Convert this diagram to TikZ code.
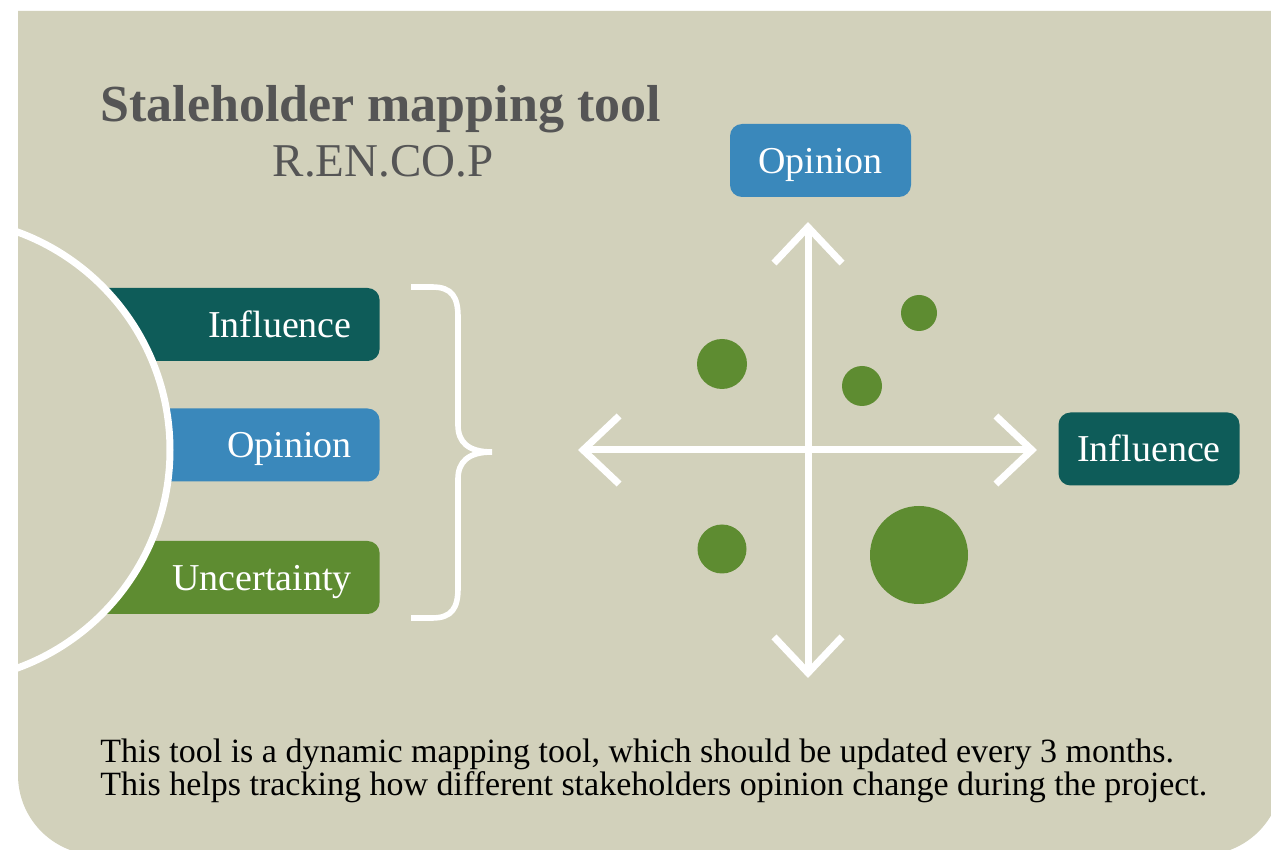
\documentclass[tikz,border=0pt]{standalone}
\usepackage{fontspec}
\setmainfont{Liberation Serif}
\usetikzlibrary{arrows.meta,positioning}
\definecolor{paper}{HTML}{D2D1BB}
\definecolor{teal}{HTML}{0E5C59}
\definecolor{sky}{HTML}{3A88BB}
\definecolor{leaf}{HTML}{5E8C31}
\definecolor{ink}{HTML}{555555}
\begin{document}
\begin{tikzpicture}
	[x=0.5pt, y=-0.5pt,
	lbl/.style ={rounded corners=6pt, text=white, font=\fontsize{19}{22}\selectfont, minimum height=36.5pt, inner sep=0pt, text height=12.6pt, text depth=0pt},
	sidebox/.style ={lbl, text width=132pt, align=right, inner xsep=14pt},
	axisbox/.style ={lbl, minimum width=90.5pt},
	axis/.style ={white, line width=3.5pt, {Straight Barb[length=18pt,width=34pt]}-{Straight Barb[length=18pt,width=34pt]}},
	dot/.style ={circle, fill=leaf, inner sep=0pt}];
	\useasboundingbox (0,0) rectangle (1271,850);
	% card
	\fill[paper, rounded corners=40pt] (18,11) [sharp corners] -- (1282,11) [rounded corners=40pt] -- (1282,855) -- (18,855) [sharp corners] -- cycle;
	% title
	\node [anchor=base west, inner sep=0pt, text=ink, font=\fontsize{26}{30}\selectfont\bfseries] (title) at (100,122) {Staleholder mapping tool};
	\node [anchor=base, inner sep=0pt, text=ink, font=\fontsize{23.5}{28}\selectfont] (acronym) at (383,177) {R.EN.CO.P};
	% left side
	\node [sidebox, fill=teal, anchor=east] (influence) at (380,324.5) {Influence};
	\node [sidebox, fill=sky, anchor=east] (opinion) at (380,445) {Opinion};
	\node [sidebox, fill=leaf, anchor=east] (uncertainty) at (380,577.5) {Uncertainty};
	\begin{scope}
		\clip (18,11) rectangle (1271,850);
		\filldraw[fill=paper, draw=white, line width=3.5pt] (-62,450) circle (116pt);
	\end{scope}
	\draw[white, line width=2.8pt] (411,287) -- (432,287) .. controls (452,287) and (458,297) .. (458,317) -- (458,425)
		.. controls (458,442) and (468,452) .. (492,452) .. controls (468,452) and (458,462) .. (458,479)
		-- (458,588) .. controls (458,608) and (452,618) .. (432,618) -- (411,618);
	% map
	\coordinate (ytop) at (808,222);
	\coordinate (ybot) at (808,678);
	\coordinate (xleft) at (578,450);
	\coordinate (xright) at (1037,450);
	\draw[axis] (xleft) -- (xright);
	\draw[axis] (ybot) -- (ytop);
	\node [axisbox, fill=sky] (opinionaxis) at (820.5,160.5) {Opinion};
	\node [axisbox, fill=teal] (influenceaxis) at (1149,449) {Influence};
	\node [dot, minimum size=25pt] (s1) at (722,364) {};
	\node [dot, minimum size=18pt] (s2) at (919,313) {};
	\node [dot, minimum size=20pt] (s3) at (862,386) {};
	\node [dot, minimum size=24.5pt] (s4) at (722,549) {};
	\node [dot, minimum size=49pt] (s5) at (919,555) {};
	% note
	\node [anchor=base west, inner sep=0pt, align=left, font=\fontsize{17}{16.5}\selectfont] (note) at (100,795)
		{This tool is a dynamic mapping tool, which should be updated every 3 months.\\
		This helps tracking how different stakeholders opinion change during the project.};
\end{tikzpicture}
\end{document}
